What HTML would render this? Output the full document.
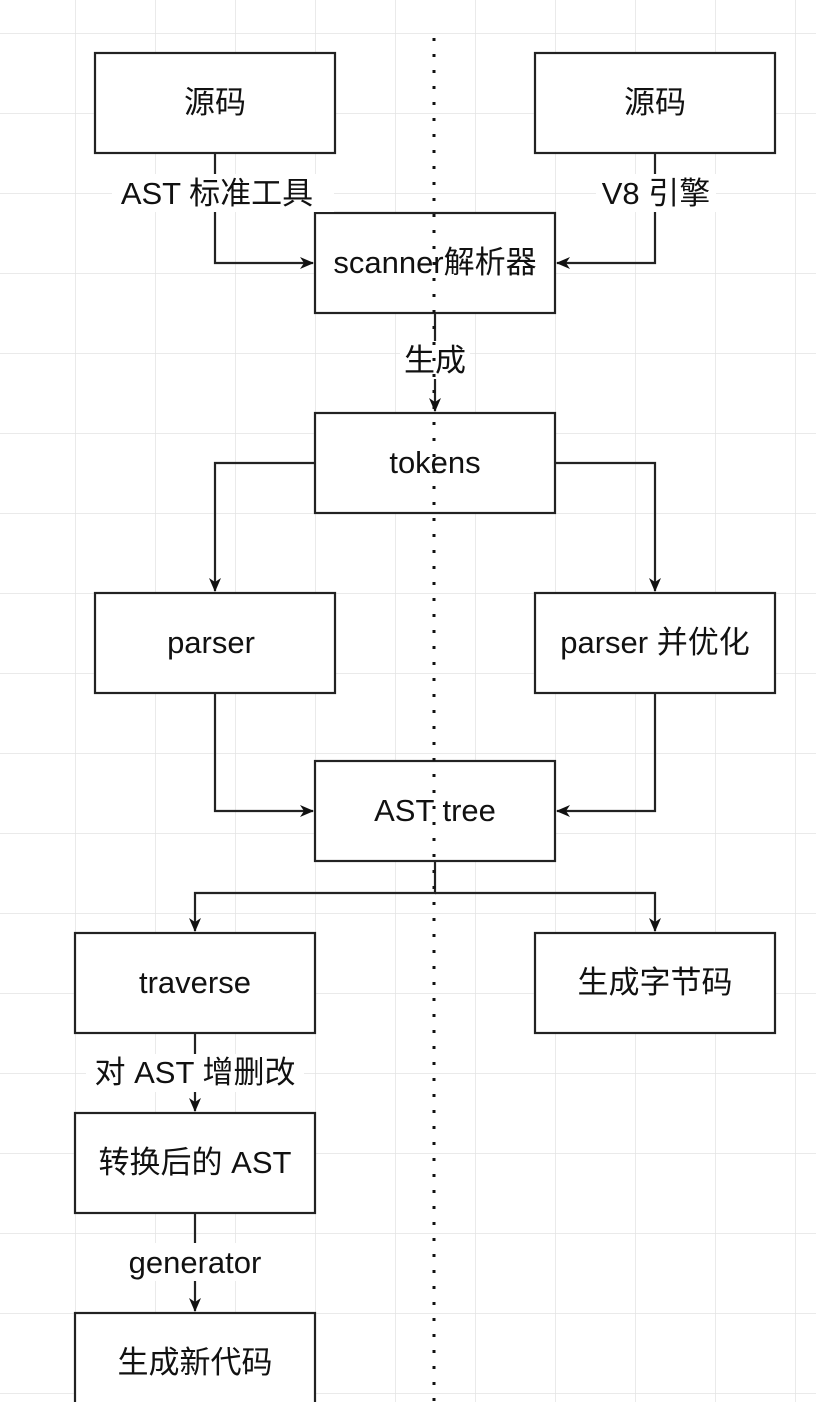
<!DOCTYPE html>
<html><head><meta charset="utf-8"><style>
html,body{margin:0;padding:0;background:#fff;}
svg{display:block;}
text{font-family:"Liberation Sans","Noto Sans CJK SC",sans-serif;font-size:31px;fill:#111;}
</style></head><body>
<svg width="816" height="1402" viewBox="0 0 816 1402" xmlns="http://www.w3.org/2000/svg">
<defs>
<pattern id="g" x="75" y="33" width="80" height="80" patternUnits="userSpaceOnUse">
<path d="M0 0H80M0 0V80" stroke="#e3e3e3" stroke-width="1.5" fill="none"/>
</pattern>
<marker id="a" markerWidth="14" markerHeight="12" refX="13" refY="6" orient="auto" markerUnits="userSpaceOnUse">
<path d="M0 0L14 6L0 12L4 6Z" fill="#111"/>
</marker>
</defs>
<rect width="816" height="1402" fill="#fff"/>
<rect width="816" height="1402" fill="url(#g)"/>
<g fill="none" stroke="#222" stroke-width="2.2">
<path d="M215 153V263H313" marker-end="url(#a)"/>
<path d="M655 153V263H557" marker-end="url(#a)"/>
<path d="M435 313V411" marker-end="url(#a)"/>
<path d="M315 463H215V591" marker-end="url(#a)"/>
<path d="M555 463H655V591" marker-end="url(#a)"/>
<path d="M215 693V811H313" marker-end="url(#a)"/>
<path d="M655 693V811H557" marker-end="url(#a)"/>
<path d="M435 861V893H195V931" marker-end="url(#a)"/>
<path d="M435 893H655V931" marker-end="url(#a)"/>
<path d="M195 1033V1111" marker-end="url(#a)"/>
<path d="M195 1213V1311" marker-end="url(#a)"/>
</g>
<g fill="#fff" stroke="#222" stroke-width="2.2">
<rect x="95" y="53" width="240" height="100"/>
<rect x="535" y="53" width="240" height="100"/>
<rect x="315" y="213" width="240" height="100"/>
<rect x="315" y="413" width="240" height="100"/>
<rect x="95" y="593" width="240" height="100"/>
<rect x="535" y="593" width="240" height="100"/>
<rect x="315" y="761" width="240" height="100"/>
<rect x="75" y="933" width="240" height="100"/>
<rect x="535" y="933" width="240" height="100"/>
<rect x="75" y="1113" width="240" height="100"/>
<rect x="75" y="1313" width="240" height="100"/>
</g>
<g fill="#fff">
<rect x="112" y="174" width="222" height="38"/>
<rect x="596" y="174" width="120" height="38"/>
<rect x="400" y="341" width="70" height="38"/>
<rect x="86" y="1054" width="218" height="38"/>
<rect x="122" y="1243" width="146" height="38"/>
</g>
<line x1="434" y1="38" x2="434" y2="1402" stroke="#111" stroke-width="3" stroke-dasharray="3 13"/>
<g text-anchor="middle">
<text x="215" y="113">源码</text>
<text x="655" y="113">源码</text>
<text x="217" y="204">AST 标准工具</text>
<text x="656" y="204">V8 引擎</text>
<text x="435" y="273">scanner解析器</text>
<text x="435" y="371">生成</text>
<text x="435" y="473">tokens</text>
<text x="211" y="653">parser</text>
<text x="655" y="653">parser 并优化</text>
<text x="435" y="821">AST tree</text>
<text x="195" y="993">traverse</text>
<text x="655" y="993">生成字节码</text>
<text x="195" y="1083">对 AST 增删改</text>
<text x="195" y="1173">转换后的 AST</text>
<text x="195" y="1273">generator</text>
<text x="195" y="1373">生成新代码</text>
</g>
</svg>
</body></html>
